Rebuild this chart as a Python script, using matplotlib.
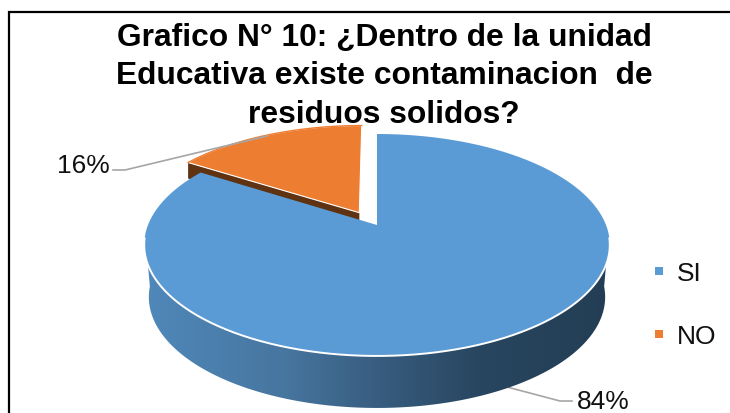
#!/usr/bin/env python3
"""Grafico N 10: pastel 3D con porcion explotada, proyectado a mano."""
import matplotlib
matplotlib.use("Agg")
import matplotlib.pyplot as plt
import numpy as np
from matplotlib.colors import LinearSegmentedColormap
from matplotlib.patches import Polygon

categorias = ["SI", "NO"]
valores = [84, 16]
colores = ["#5B9BD5", "#ED7D31"]
titulo = ["Grafico N° 10: ¿Dentro de la unidad",
          "Educativa existe contaminacion  de",
          "residuos solidos?"]

plt.rcParams["font.family"] = ["Liberation Sans", "DejaVu Sans"]

W, H = 730, 414
# perspectiva del disco: centro del pastel en (377, 226)
CX, CY, K, A, C = 377, 226, 229, -66.7, 0.18
EXPLODE = 0.15
PROF = 52  # grosor del pastel


def proyectar(u, v, dy=0.0, esc=1.0):
    d = C * v + 1
    return CX + esc * K * u / d, (A * v + CY) / d + dy


def arco(a0, a1, n=200):
    # angulos en grados, desde arriba en sentido antihorario
    t = np.radians(np.linspace(a0, a1, n))
    return -np.sin(t), np.cos(t)


fig = plt.figure(figsize=(W / 100, H / 100), dpi=100)
ax = fig.add_axes([0, 0, 1, 1])
ax.set_xlim(0, W)
ax.set_ylim(H, 0)
ax.axis("off")

# marco recortado: solo arriba e izquierda
ax.plot([8.5, 8.5, W], [H, 13, 13], color="black", lw=1.6, solid_joinstyle="miter")

ang_no = 360 * valores[1] / sum(valores)

# pared lateral de la porcion grande
u_f, v_f = arco(95, 265, 300)
xf, yf = proyectar(u_f, v_f)
u_b, v_b = arco(265, 95, 300)
xl, yl = proyectar(u_b, v_b, dy=PROF, esc=0.98)
pared = Polygon(np.column_stack([np.r_[xf, xl], np.r_[yf, yl]]), closed=True,
                fc="none", ec="none")
ax.add_patch(pared)
grad = LinearSegmentedColormap.from_list(
    "pared", [(0, "#4F88BA"), (0.3, "#47769F"), (0.5, "#385D80"),
              (0.72, "#284660"), (1, "#233E54")])
img = ax.imshow(np.linspace(0, 1, 256)[None, :], cmap=grad, aspect="auto",
                extent=[144, 610, 414, 240], zorder=2)
img.set_clip_path(pared)
ax.set_xlim(0, W)
ax.set_ylim(H, 0)

# cara superior de la porcion grande
u, v = arco(ang_no, 360, 400)
x, y = proyectar(np.r_[0, u], np.r_[0, v])
ax.add_patch(Polygon(np.column_stack([x, y]), closed=True, fc=colores[0], ec="none", zorder=4))
# borde blanco al frente
u, v = arco(97, 263, 300)
x, y = proyectar(u, v)
ax.plot(x, y, color="white", lw=1.4, zorder=5)

# porcion explotada
mid = np.radians(ang_no / 2)
ex, ey = -np.sin(mid) * EXPLODE, np.cos(mid) * EXPLODE
u, v = arco(0, ang_no, 120)
x, y = proyectar(np.r_[0, u] + ex, np.r_[0, v] + ey)
x, y = x - 1.5, y + 1.5
# grosor visible del borde cortado
cx, cy = x[0], y[0]
tx, ty = x[-1], y[-1]
ax.add_patch(Polygon([(tx, ty), (tx, ty + 16), (cx, cy + 16), (cx, cy)], closed=True,
                     fc="#5F3212", ec="none", zorder=3))
ax.add_patch(Polygon(np.column_stack([x, y]), closed=True, fc=colores[1],
                     ec="white", lw=0.8, zorder=6))
ax.plot(x[1:], y[1:], color=colores[1], lw=1.0, zorder=6)

# lineas guia y etiquetas
gris = "#A6A6A6"
ax.plot([113, 125, 267], [171, 171, 137], color=gris, lw=1.2, zorder=7)
ax.plot([507, 560, 572], [388, 402, 402], color=gris, lw=1.2, zorder=1)
ax.text(57, 166, f"{valores[1]}%", fontsize=19, va="center", ha="left", color="#111111")
ax.text(577, 402, f"{valores[0]}%", fontsize=19, va="center", ha="left", color="#111111")

# leyenda
for cat, col, yy in zip(categorias, colores, [272, 335]):
    ax.plot([659], [yy], marker="s", ms=5.8, color=col, mew=0)
    ax.text(677, yy + 2, cat, fontsize=19, va="center", ha="left", color="#111111")

# titulo, linea por linea
for linea, yy in zip(titulo, [38, 76, 115]):
    ax.text(384, yy, linea, fontsize=22.9, fontweight="bold", ha="center", va="center",
            color="black", zorder=8)

fig.savefig("out.png", dpi=100)
